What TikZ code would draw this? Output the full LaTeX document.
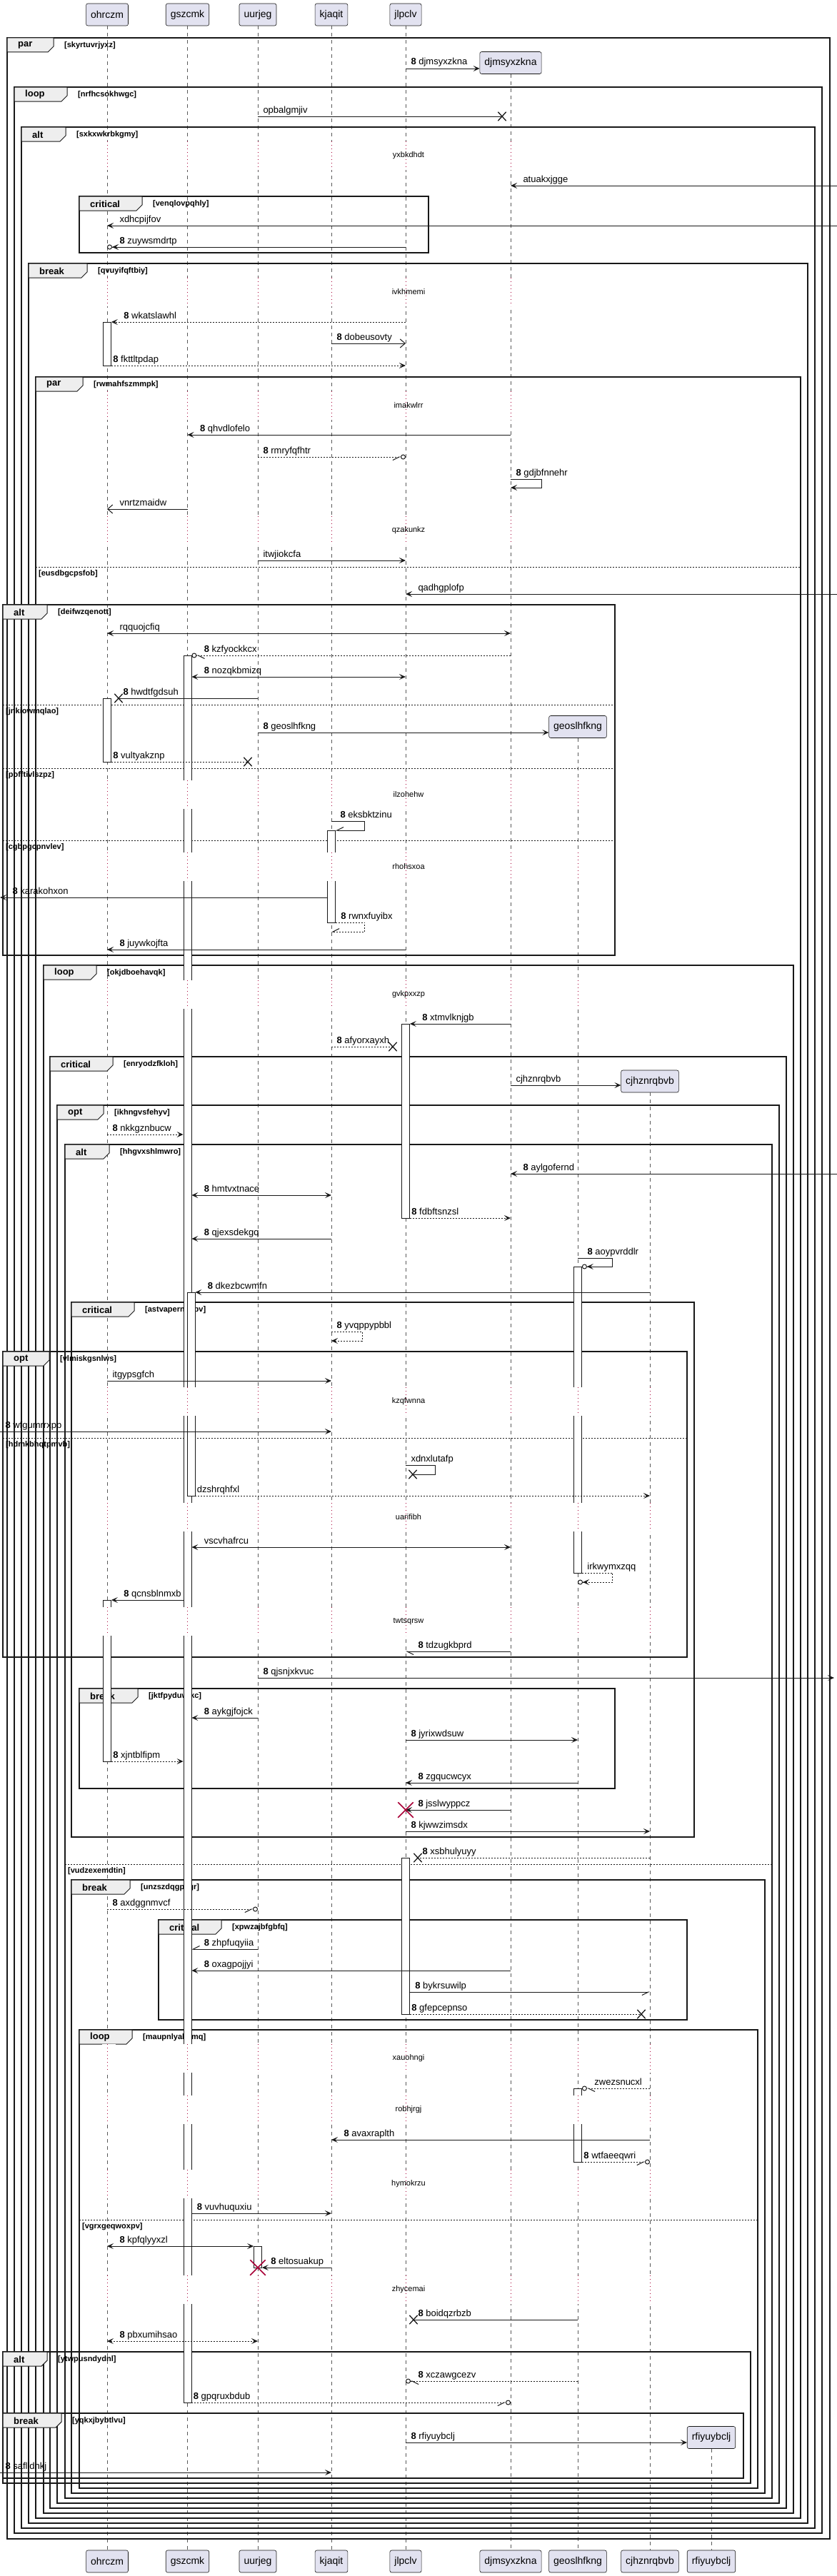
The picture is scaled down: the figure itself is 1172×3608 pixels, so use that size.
\documentclass[tikz,border=0pt]{standalone}
\usepackage{fontspec}
\setmainfont{Liberation Sans}
\usetikzlibrary{arrows.meta,shapes.misc,fit}
\definecolor{puFill}{RGB}{226,226,240}
\definecolor{puLine}{RGB}{ 24, 24, 24}
\definecolor{puGrey}{RGB}{ 90, 90, 90}
\definecolor{puRed} {RGB}{168,  0, 54}
\definecolor{puTab} {RGB}{238,238,238}
\newcommand{\sqn}{\textbf{8}\ }
\tikzset{
  bb/.tip={Straight Barb[length=7pt,width=12pt]},
  hR/.tip={Straight Barb[length=9pt,width=9pt,right]},
  hL/.tip={Straight Barb[length=9pt,width=9pt,left]}
}

\begin{document}
\begin{tikzpicture}[x=1pt,y=-1pt,
  every node/.style={font=\fontsize{13}{15}\selectfont},
  >={Stealth[length=9pt,width=8pt,inset=4pt]},
  part/.style={draw=puLine,fill=puFill,rounded corners=2.5pt,line width=0.6pt,
               minimum height=31pt,inner xsep=6.5pt,font=\fontsize{14}{16}\selectfont},
  life/.style={draw=puGrey,line width=0.7pt,dash pattern=on 5pt off 5pt},
  gap/.style ={draw=puRed,line width=0.8pt,dash pattern=on 1pt off 4pt},
  act/.style ={draw=puLine,fill=white,line width=0.8pt,inner sep=0pt},
  frm/.style ={draw=puLine,line width=1.5pt},
  tab/.style ={draw=puLine,fill=puTab,line width=1pt},
  els/.style ={draw=puLine,line width=1pt,dash pattern=on 2pt off 2pt},
  kw/.style  ={anchor=west,inner sep=0pt,font=\fontsize{13}{15}\selectfont\bfseries},
  cond/.style={anchor=west,inner sep=0pt,font=\fontsize{11}{13}\selectfont\bfseries},
  dly/.style ={inner sep=0pt,font=\fontsize{11}{13}\selectfont},
  msg/.style ={draw=puLine,line width=1pt},
  ret/.style ={msg,dash pattern=on 2pt off 2pt},
  lr/.style  ={pos=0,anchor=base west,inner sep=0pt,xshift=7pt,yshift=5pt},
  ll/.style  ={pos=1,anchor=base west,inner sep=0pt,xshift=17pt,yshift=5pt},
  lb/.style  ={pos=0,anchor=base west,inner sep=0pt,xshift=17pt,yshift=5pt},
  lx/.style  ={pos=1,anchor=base west,inner sep=0pt,xshift=6pt,yshift=5pt},
  sl/.style  ={anchor=base west,inner sep=0pt,xshift=7pt,yshift=5pt},
  xm/.style  ={cross out,draw=puLine,line width=1.3pt,minimum width=10pt,minimum height=11pt,inner sep=0pt},
  rx/.style  ={cross out,draw=puRed,line width=1.5pt,minimum size=20pt,inner sep=0pt}
]
\useasboundingbox (0,0) rectangle (1172,3608);

% participants
\node[part] (ohrczm) at (150,20.5) {ohrczm};
\node[part] (gszcmk) at (262.5,20.5) {gszcmk};
\node[part] (uurjeg) at (361,20.5) {uurjeg};
\node[part] (kjaqit) at (464,20.5) {kjaqit};
\node[part] (jlpclv) at (568,20.5) {jlpclv};
\node[part] (djmsyxzkna) at (715,88) {djmsyxzkna};
\node[part] (geoslhfkng) at (809,1018) {geoslhfkng};
\node[part] (cjhznrqbvb) at (910,1514.5) {cjhznrqbvb};
\node[part] (rfiyuybclj) at (996,3414) {rfiyuybclj};
\foreach \p/\px in {ohrczm/150,gszcmk/262.5,uurjeg/361,kjaqit/464,jlpclv/568,
                    djmsyxzkna/715,geoslhfkng/809,cjhznrqbvb/910,rfiyuybclj/996}
  \node[part] (b-\p) at (\px,3587.5) {\p};
\foreach \p in {ohrczm,gszcmk,uurjeg,kjaqit,jlpclv,djmsyxzkna,geoslhfkng,cjhznrqbvb,rfiyuybclj}
  \draw[life] (\p.south) -- (b-\p.north);

% groups
\foreach \fl/\ft/\fr/\fb/\kw/\tw/\cd [count=\i] in {
  10/53/1162/3556/par/65/skyrtuvrjyxz,
  20/122/1151/3548/loop/74/nrfhcsokhwgc,
  30/178/1141/3541/alt/62/sxkxwkrbkgmy,
  111/275/600/354/critical/88/venqlovpqhly,
  40/369/1131/3534/break/82/qvuyifqftbiy,
  50/528/1121/3527/par/66/rwmahfszmmpk,
  4/847/861/1338/alt/62/deifwzqenott,
  61/1352/1111/3520/loop/74/okjdboehavqk,
  70/1480/1101/3513/critical/88/enryodzfkloh,
  80/1548/1091/3506/opt/65/ikhngvsfehyv,
  91/1603/1081/3499/alt/62/hhgvxshlmwro,
  100/1824/972/2573/critical/88/astvapernegbv,
  4/1893/962/2321/opt/65/vlmiskgsnlws,
  111/2365/861/2505/break/82/jktfpyduwjkc,
  100/2633/1071/3492/break/82/unzszdqgpegr,
  222/2689/962/2829/critical/88/xpwzajbfgbfq,
  111/2843/1061/3485/loop/74/maupnlyabamq,
  4/3294/1051/3478/alt/62/ytwpusndydnl,
  4/3380/1041/3471/break/82/yqkxjbybtlvu}{
  \draw[frm] (\fl,\ft) rectangle (\fr,\fb);
  \filldraw[tab] (\fl,\ft) -- ++(\tw,0) -- ++(0,12) -- ++(-8,8) -- (\fl,\ft+20) -- cycle;
  \node[kw] (k\i) at (\fl+15,\ft+10.5) {\kw};
  \node[cond] (c\i) at (\fl+\tw+15,\ft+11) {[\cd]};
}
\foreach \el/\er/\ey/\ec [count=\i] in {
  50/1121/794/eusdbgcpsfob, 4/861/987/jnkiowmqlao, 4/861/1076/pofftivlszpz,
  4/861/1177/cgbpgcpnvlev, 91/1081/2611/vudzexemdtin, 4/962/2014/hdmkbhqtpmvb,
  111/1061/3109/vgrxgeqwoxpv}{
  \draw[els] (\el,\ey) -- (\er,\ey);
  \node[cond] (e\i) at (\el+4,\ey+9.5) {[\ec]};
}

% activations
\node[act,fit={(ohrczm |- 0,451) (ohrczm |- 0,512)},minimum width=11pt] (a1) {};
\node[act,fit={(gszcmk |- 0,918) (gszcmk |- 0,3365)},minimum width=11pt] (a2) {};
\node[act,fit={(ohrczm |- 0,978) (ohrczm |- 0,1067)},minimum width=11pt] (a3) {};
\node[act,fit={(kjaqit |- 0,1163) (kjaqit |- 0,1292)},minimum width=11pt] (a4) {};
\node[act,fit={(jlpclv |- 0,1434) (jlpclv |- 0,1706)},minimum width=11pt] (a5) {};
\node[act,fit={(geoslhfkng |- 0,1774) (geoslhfkng |- 0,2203)},minimum width=11pt] (a6) {};
\node[act,fit={(gszcmk |- 0,1810) (gszcmk |- 0,2095)},minimum width=11pt,xshift=5pt] (a7) {};
\node[act,fit={(ohrczm |- 0,2241) (ohrczm |- 0,2467)},minimum width=11pt] (a8) {};
\node[act,fit={(jlpclv |- 0,2602) (jlpclv |- 0,2821)},minimum width=11pt] (a9) {};
\node[act,fit={(geoslhfkng |- 0,2925) (geoslhfkng |- 0,3028)},minimum width=11pt] (a10) {};
\node[act,fit={(uurjeg |- 0,3146) (uurjeg |- 0,3176)},minimum width=11pt] (a11) {};

% delays
\foreach \dy/\dt [count=\i] in {218/yxbkdhdt,409/ivkhmemi,568/imakwlrr,743/qzakunkz,
  1113/ilzohehw,1214/rhohsxoa,1393/gvkpxxzp,1963/kzqfwnna,2125/uarifibh,2271/twtsqrsw,
  2883/xauohngi,2955/robhjrgj,3059/hymokrzu,3207/zhycemai}{
  \foreach \lx/\ls in {150/36,262.5/36,361/36,464/36,568/36,715/104,809/1034,910/1531}{
    \ifnum\dy>\ls\relax
      \fill[white] (\lx-7,\dy-20) rectangle (\lx+12,\dy+20);
      \draw[gap] (\lx,\dy-20) -- (\lx,\dy+20);
    \fi
  }
  \node[dly] (d\i) at (572,\dy) {\dt};
}

% messages
\draw[msg,->] (jlpclv |- 0,96) -- (djmsyxzkna.west |- 0,96) node[lr] {\sqn djmsyxzkna};
\node[xm] (x1) at (703,163) {};
\draw[msg] (uurjeg |- 0,163) -- (x1.center) node[lr] {opbalgmjiv};
\coordinate (edge1) at (1172,260);
\draw[msg,->] (edge1) -- (djmsyxzkna |- edge1) node[ll] {atuakxjgge};
\coordinate (edge2) at (1172,316);
\draw[msg,->] (edge2) -- (ohrczm |- edge2) node[ll] {xdhcpijfov};
\draw[msg,-{>[] Circle[open,length=7pt]}] (jlpclv |- 0,346) -- (ohrczm |- 0,346) node[ll] {\sqn zuywsmdrtp};
\draw[ret,->] (jlpclv |- 0,451) -- (a1.east |- 0,451) node[ll] {\sqn wkatslawhl};
\draw[msg,-bb] (kjaqit |- 0,481) -- (jlpclv |- 0,481) node[lr] {\sqn dobeusovty};
\draw[ret,->] (a1.east |- 0,512) -- (jlpclv |- 0,512) node[lr,xshift=-5pt] {\sqn fkttltpdap};
\draw[msg,->] (djmsyxzkna |- 0,609) -- (gszcmk |- 0,609) node[ll] {\sqn qhvdlofelo};
\draw[ret,-{hR[] Circle[open,length=7pt]}] (uurjeg |- 0,640) -- (jlpclv |- 0,640) node[lr] {\sqn rmryfqfhtr};
\draw[msg,->] (djmsyxzkna |- 0,671) node[sl] {\sqn gdjbfnnehr} -- ++(43,0) -- ++(0,12) -- (djmsyxzkna |- 0,683);
\draw[msg,-bb] (gszcmk |- 0,713) -- (ohrczm |- 0,713) node[ll] {vnrtzmaidw};
\draw[msg,->] (uurjeg |- 0,785) -- (jlpclv |- 0,785) node[lr] {itwjiokcfa};
\coordinate (edge3) at (1172,832);
\draw[msg,->] (edge3) -- (jlpclv |- edge3) node[ll] {qadhgplofp};
\draw[msg,<->] (ohrczm |- 0,887) -- (djmsyxzkna |- 0,887) node[lb] {rqquojcfiq};
\draw[ret,-{hL[] Circle[open,length=7pt]}] (djmsyxzkna |- 0,918) -- (a2.east |- 0,918) node[ll] {\sqn kzfyockkcx};
\draw[msg,<->] (a2.east |- 0,948) -- (jlpclv |- 0,948) node[lb] {\sqn nozqkbmizq};
\node[xm] (x2) at (166,978) {};
\draw[msg] (uurjeg |- 0,978) -- (x2.center) node[lx] {\sqn hwdtfgdsuh};
\draw[msg,->] (uurjeg |- 0,1026) -- (geoslhfkng.west |- 0,1026) node[lr] {\sqn geoslhfkng};
\node[xm] (x3) at (347,1067) {};
\draw[ret] (a3.east |- 0,1067) -- (x3.center) node[lr,xshift=-5pt] {\sqn vultyakznp};
\draw[msg,-hR] (kjaqit |- 0,1150) node[sl,xshift=5pt] {\sqn eksbktzinu} -- ++(46,0) -- ++(0,13) -- (a4.east |- 0,1163);
\coordinate (edge4) at (0,1257);
\draw[msg,->] (a4.west |- edge4) -- (edge4) node[ll] {\sqn karakohxon};
\draw[ret,-hR] (a4.east |- 0,1292) node[sl] {\sqn rwnxfuyibx} -- ++(41,0) -- ++(0,13) -- (kjaqit |- 0,1305);
\draw[msg,->] (jlpclv |- 0,1330) -- (ohrczm |- 0,1330) node[ll] {\sqn juywkojfta};
\draw[msg,->] (djmsyxzkna |- 0,1434) -- (a5.east |- 0,1434) node[ll] {\sqn xtmvlknjgb};
\node[xm] (x4) at (550,1466) {};
\draw[ret] (kjaqit |- 0,1466) -- (x4.center) node[lr] {\sqn afyorxayxh};
\draw[msg,->] (djmsyxzkna |- 0,1520) -- (cjhznrqbvb.west |- 0,1520) node[lr] {cjhznrqbvb};
\draw[ret,->] (ohrczm |- 0,1589) -- (a2.west |- 0,1589) node[lr] {\sqn nkkgznbucw};
\coordinate (edge5) at (1172,1644);
\draw[msg,->] (edge5) -- (djmsyxzkna |- edge5) node[ll] {\sqn aylgofernd};
\draw[msg,<->] (a2.east |- 0,1674) -- (kjaqit |- 0,1674) node[lb] {\sqn hmtvxtnace};
\draw[ret,->] (a5.east |- 0,1706) -- (djmsyxzkna |- 0,1706) node[lr,xshift=-5pt] {\sqn fdbftsnzsl};
\draw[msg,->] (kjaqit |- 0,1735) -- (a2.east |- 0,1735) node[ll] {\sqn qjexsdekgq};
\draw[msg,-{>[] Circle[open,length=7pt]}] (geoslhfkng |- 0,1762) node[sl,xshift=6pt] {\sqn aoypvrddlr} -- ++(48,0) -- ++(0,12) -- (a6.east |- 0,1774);
\draw[msg,->] (cjhznrqbvb |- 0,1810) -- (a7.east |- 0,1810) node[ll] {\sqn dkezbcwmfn};
\draw[ret,->] (kjaqit |- 0,1865) node[sl] {\sqn yvqppypbbl} -- ++(43,0) -- ++(0,13) -- (kjaqit |- 0,1878);
\draw[msg,->] (ohrczm |- 0,1934) -- (kjaqit |- 0,1934) node[lr] {itgypsgfch};
\coordinate (edge6) at (0,2005);
\draw[msg,->] (edge6) -- (kjaqit |- edge6) node[lr] {\sqn wfgumrrxpp};
\node[xm] (x5) at (578,2065) {};
\draw[msg] (jlpclv |- 0,2052) node[sl] {xdnxlutafp} -- ++(41,0) -- ++(0,13) -- (x5.center);
\draw[ret,->] (a7.east |- 0,2095) -- (cjhznrqbvb |- 0,2095) node[lr,xshift=-5pt] {dzshrqhfxl};
\draw[msg,<->] (a2.east |- 0,2167) -- (djmsyxzkna |- 0,2167) node[lb] {vscvhafrcu};
\draw[ret,-{>[] Circle[open,length=7pt]}] (a6.east |- 0,2203) node[sl] {irkwymxzqq} -- ++(43,0) -- ++(0,13) -- (geoslhfkng |- 0,2216);
\draw[msg,->] (a2.west |- 0,2241) -- (a8.east |- 0,2241) node[ll] {\sqn qcnsblnmxb};
\draw[msg,-hL] (djmsyxzkna |- 0,2313) -- (jlpclv |- 0,2313) node[ll] {\sqn tdzugkbprd};
\coordinate (edge7) at (1168,2350);
\draw[msg,->] (uurjeg |- edge7) -- (edge7) node[lr] {\sqn qjsnjxkvuc};
\draw[msg,->] (uurjeg |- 0,2406) -- (a2.east |- 0,2406) node[ll] {\sqn aykgjfojck};
\draw[msg,->] (jlpclv |- 0,2437) -- (geoslhfkng |- 0,2437) node[lr] {\sqn jyrixwdsuw};
\draw[ret,->] (a8.east |- 0,2467) -- (a2.west |- 0,2467) node[lr,xshift=-5pt] {\sqn xjntblfipm};
\draw[msg,->] (geoslhfkng |- 0,2497) -- (jlpclv |- 0,2497) node[ll] {\sqn zgqucwcyx};
\draw[msg,->] (djmsyxzkna |- 0,2535) -- (jlpclv |- 0,2535) node[ll] {\sqn jsslwyppcz};
\node[rx] (x6) at (568,2535) {};
\draw[msg,->] (jlpclv |- 0,2565) -- (cjhznrqbvb |- 0,2565) node[lr] {\sqn kjwwzimsdx};
\node[xm] (x7) at (585,2602) {};
\draw[ret] (cjhznrqbvb |- 0,2602) -- (x7.center) node[lx] {\sqn xsbhulyuyy};
\draw[ret,-{hR[] Circle[open,length=7pt]}] (ohrczm |- 0,2674) -- (uurjeg |- 0,2674) node[lr] {\sqn axdggnmvcf};
\draw[msg,-hR] (uurjeg |- 0,2730) -- (a2.east |- 0,2730) node[ll] {\sqn zhpfuqyiia};
\draw[msg,->] (djmsyxzkna |- 0,2760) -- (a2.east |- 0,2760) node[ll] {\sqn oxagpojjyi};
\draw[msg,-hR] (a9.east |- 0,2790) -- (cjhznrqbvb |- 0,2790) node[lr] {\sqn bykrsuwilp};
\node[xm] (x8) at (898,2821) {};
\draw[ret] (a9.east |- 0,2821) -- (x8.center) node[lr,xshift=-5pt] {\sqn gfepcepnso};
\draw[ret,-{hL[] Circle[open,length=7pt]}] (cjhznrqbvb |- 0,2925) -- (a10.east |- 0,2925) node[ll] {zwezsnucxl};
\draw[msg,->] (cjhznrqbvb |- 0,2997) -- (kjaqit |- 0,2997) node[ll] {\sqn avaxraplth};
\draw[ret,-{hR[] Circle[open,length=7pt]}] (a10.east |- 0,3028) -- (cjhznrqbvb |- 0,3028) node[lr,xshift=-5pt] {\sqn wtfaeeqwri};
\draw[msg,->] (a2.east |- 0,3100) -- (kjaqit |- 0,3100) node[lr] {\sqn vuvhuquxiu};
\draw[msg,<->] (ohrczm |- 0,3146) -- (a11.west |- 0,3146) node[lb] {\sqn kpfqlyyxzl};
\draw[msg,->] (kjaqit |- 0,3176) -- (a11.east |- 0,3176) node[ll,xshift=-5pt] {\sqn eltosuakup};
\node[rx] (x9) at (361,3176) {};
\node[xm] (x10) at (579,3249) {};
\draw[msg] (geoslhfkng |- 0,3249) -- (x10.center) node[lx] {\sqn boidqzrbzb};
\draw[ret,<->] (ohrczm |- 0,3279) -- (uurjeg |- 0,3279) node[lb] {\sqn pbxumihsao};
\draw[ret,-{hL[] Circle[open,length=7pt]}] (geoslhfkng |- 0,3335) -- (jlpclv |- 0,3335) node[ll] {\sqn xczawgcezv};
\draw[ret,-{hR[] Circle[open,length=7pt]}] (a2.east |- 0,3365) -- (djmsyxzkna |- 0,3365) node[lr,xshift=-5pt] {\sqn gpqruxbdub};
\draw[msg,->] (jlpclv |- 0,3421) -- (rfiyuybclj.west |- 0,3421) node[lr] {\sqn rfiyuybclj};
\coordinate (edge8) at (0,3463);
\draw[msg,->] (edge8) -- (kjaqit |- edge8) node[lr] {\sqn saflldnkj};
\end{tikzpicture}
\end{document}
